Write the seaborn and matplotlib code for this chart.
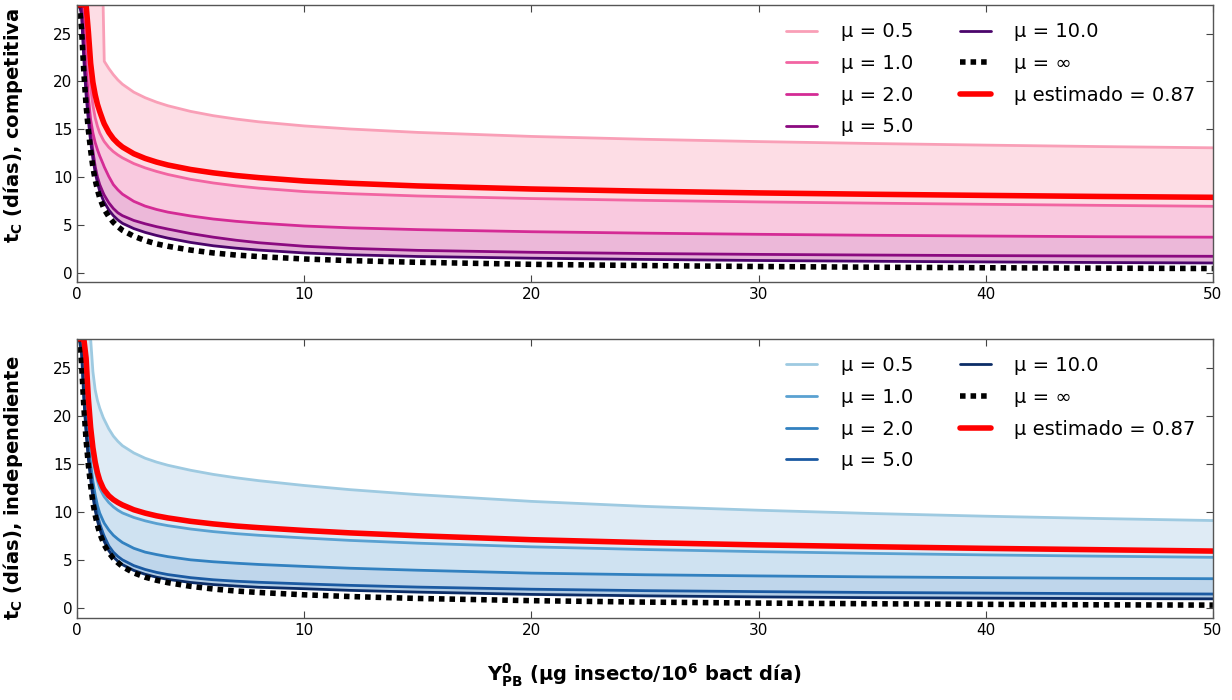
import numpy as np
import pandas as pd
import matplotlib
matplotlib.use("Agg")
import matplotlib.pyplot as plt
import seaborn as sns

# ---- data ----
x_vals = [0, 0.1, 0.2, 0.3, 0.4, 0.5, 0.6, 0.7, 0.8, 0.9, 1.0, 1.15, 1.2, 1.4, 1.6, 1.8,
          2, 2.5, 3, 3.5, 4, 5, 6, 7, 8, 10, 12, 15, 20, 25, 30, 35, 40, 45, 50]

mu_labels = ["μ = 0.5", "μ = 1.0", "μ = 2.0", "μ = 5.0", "μ = 10.0"]
inf_label = "μ = ∞"
est_label = "μ estimado = 0.87"

# competitiva (top panel)
comp_05 = [28, 28, 28, 28, 28, 28, 28, 28, 28, 28, 28, 28, 22.1, 21.35, 20.7, 20.15,
           19.7, 18.87, 18.29, 17.83, 17.45, 16.86, 16.41, 16.06, 15.77, 15.34, 15.02, 14.66, 14.24, 13.94, 13.70, 13.50, 13.33, 13.18, 13.05]
comp_1 = [28, 28, 28, 28, 26.5, 22.5, 19.4, 17.5, 16.2, 15.3, 14.6, 13.9, 13.7, 13.1, 12.65, 12.3,
          12.0, 11.4, 10.95, 10.58, 10.26, 9.75, 9.37, 9.07, 8.83, 8.47, 8.25, 8.01, 7.74, 7.55, 7.39, 7.26, 7.14, 7.03, 6.93]
comp_2 = [28, 28, 28, 26.0, 21.5, 18.3, 16.0, 14.6, 13.6, 12.85, 12.2, 11.35, 11.05, 10.05, 9.2, 8.65,
          8.2, 7.45, 6.95, 6.6, 6.32, 5.92, 5.6, 5.36, 5.17, 4.87, 4.68, 4.49, 4.27, 4.12, 4.0, 3.9, 3.82, 3.75, 3.70]
comp_5 = [28, 28, 27.8, 23.3, 19.5, 16.7, 14.5, 12.7, 11.1, 10.0, 9.2, 8.35, 8.1, 7.3, 6.7, 6.25,
          5.95, 5.45, 5.1, 4.8, 4.55, 4.08, 3.7, 3.38, 3.12, 2.75, 2.53, 2.32, 2.12, 1.99, 1.9, 1.83, 1.77, 1.73, 1.70]
comp_10 = [28, 28, 27.0, 22.3, 18.6, 15.9, 13.7, 11.9, 10.5, 9.4, 8.5, 7.6, 7.35, 6.55, 5.95, 5.5,
           5.15, 4.6, 4.2, 3.88, 3.6, 3.15, 2.8, 2.55, 2.35, 2.05, 1.86, 1.68, 1.5, 1.37, 1.26, 1.18, 1.11, 1.05, 1.0]
comp_inf = [28, 28, 25.5, 21.0, 17.5, 14.9, 12.8, 11.0, 9.7, 8.65, 7.8, 6.9, 6.6, 5.85, 5.25, 4.8,
            4.42, 3.8, 3.35, 3.0, 2.75, 2.35, 2.05, 1.83, 1.67, 1.42, 1.25, 1.07, 0.86, 0.73, 0.63, 0.56, 0.5, 0.46, 0.42]
comp_est = [28, 28, 28, 28, 28, 25.2, 21.9, 19.9, 18.6, 17.6, 16.85, 15.85, 15.55, 14.66, 14.0, 13.52,
            13.13, 12.43, 11.94, 11.56, 11.25, 10.78, 10.43, 10.15, 9.93, 9.58, 9.34, 9.06, 8.74, 8.51, 8.33, 8.19, 8.07, 7.96, 7.87]

# independiente (bottom panel)
ind_05 = [28, 28, 28, 28, 28, 28, 28, 24.6, 22.7, 21.6, 20.8, 19.85, 19.6, 18.65, 17.9, 17.35,
          16.9, 16.15, 15.6, 15.2, 14.87, 14.35, 13.92, 13.57, 13.27, 12.77, 12.34, 11.82, 11.12, 10.6, 10.2, 9.86, 9.58, 9.34, 9.13]
ind_1 = [28, 28, 28, 28, 25.0, 20.6, 17.6, 15.7, 14.3, 13.25, 12.5, 11.8, 11.6, 11.0, 10.55, 10.2,
         9.92, 9.45, 9.1, 8.82, 8.6, 8.25, 7.98, 7.77, 7.6, 7.32, 7.07, 6.78, 6.4, 6.12, 5.9, 5.72, 5.56, 5.43, 5.31]
ind_2 = [28, 28, 28, 24.5, 20.3, 17.3, 15.0, 13.2, 11.8, 10.7, 9.9, 9.1, 8.85, 8.15, 7.6, 7.2,
         6.85, 6.25, 5.85, 5.6, 5.38, 5.05, 4.85, 4.7, 4.57, 4.37, 4.18, 3.97, 3.67, 3.5, 3.38, 3.28, 3.2, 3.14, 3.09]
ind_5 = [28, 28, 27.0, 22.4, 18.8, 16.1, 14.0, 12.2, 10.8, 9.7, 8.8, 7.8, 7.5, 6.5, 5.85, 5.4,
         5.05, 4.45, 4.05, 3.75, 3.52, 3.2, 2.98, 2.83, 2.72, 2.55, 2.4, 2.22, 2.0, 1.85, 1.75, 1.66, 1.6, 1.54, 1.5]
ind_10 = [28, 28, 26.5, 21.8, 18.2, 15.5, 13.4, 11.6, 10.2, 9.1, 8.25, 7.25, 6.95, 6.0, 5.35, 4.9,
          4.55, 3.95, 3.55, 3.25, 3.02, 2.7, 2.48, 2.33, 2.2, 2.05, 1.88, 1.7, 1.46, 1.31, 1.2, 1.12, 1.07, 1.03, 1.0]
ind_inf = [28, 28, 25.5, 21.0, 17.5, 14.9, 12.8, 11.0, 9.7, 8.65, 7.8, 6.9, 6.6, 5.8, 5.2, 4.75,
           4.35, 3.7, 3.25, 2.93, 2.68, 2.3, 2.02, 1.81, 1.66, 1.42, 1.24, 1.04, 0.81, 0.66, 0.56, 0.49, 0.43, 0.38, 0.35]
ind_est = [28, 28, 28, 28, 26.0, 21.8, 18.8, 16.7, 15.2, 14.1, 13.3, 12.5, 12.3, 11.7, 11.3, 11.0,
           10.75, 10.25, 9.9, 9.62, 9.4, 9.05, 8.78, 8.56, 8.39, 8.1, 7.85, 7.55, 7.14, 6.84, 6.6, 6.41, 6.24, 6.1, 5.96]

x_ticks = [0, 10, 20, 30, 40, 50]
y_ticks = [0, 5, 10, 15, 20, 25]

# ---- styling ----
sns.set_style("ticks")
plt.rcParams['font.family'] = ['DejaVu Sans']
plt.rcParams['mathtext.default'] = 'regular'
plt.rcParams['text.color'] = 'black'
plt.rcParams['axes.labelcolor'] = 'black'
plt.rcParams['xtick.color'] = 'black'
plt.rcParams['ytick.color'] = 'black'

top_colors = ['#f99fb7', '#f265a2', '#d42b95', '#8b0a80', '#4b056b']
top_bands = ['#fddde5', '#f9c9df', '#ecb8d9', '#e3b0d6']
bot_colors = ['#9ecae1', '#5aa1d1', '#3281c0', '#1b5aa2', '#0c2d67']
bot_bands = ['#dfebf5', '#cfe2f1', '#bfd6eb', '#b3cde5']

fig = plt.figure(figsize=(12.32, 7.0), dpi=100)
ax1 = fig.add_axes([0.0625, 0.597, 0.922, 0.396])
ax2 = fig.add_axes([0.0625, 0.117, 0.922, 0.399])


def draw(ax, series, inf_s, est_s, colors, bands, ylabel, ylab_y):
    x = np.array(x_vals)
    for i in range(len(series) - 1):
        ax.fill_between(x, series[i], series[i + 1], color=bands[i], lw=0, zorder=1)
    for s, c, lab in zip(series, colors, mu_labels):
        sns.lineplot(x=x, y=s, ax=ax, color=c, lw=2, label=lab, sort=False,
                     estimator=None, zorder=3)
    sns.lineplot(x=x, y=inf_s, ax=ax, color='black', lw=4, label=inf_label,
                 sort=False, estimator=None, zorder=4)
    ax.lines[-1].set_linestyle((0, (1, 0.9)))
    ax.lines[-1].set_dash_capstyle('butt')
    sns.lineplot(x=x, y=est_s, ax=ax, color='red', lw=4, label=est_label,
                 sort=False, estimator=None, zorder=5)
    ax.set_xlim(0, 50)
    ax.set_ylim(-1, 28)
    ax.set_xticks(x_ticks)
    ax.set_yticks(y_ticks)
    ax.tick_params(direction='in', top=True, right=True, length=5, width=0.8,
                   labelsize=11, color='#444444', labelcolor='black')
    for sp in ax.spines.values():
        sp.set_color('#555555')
        sp.set_linewidth(1.0)
        sp.set_zorder(6)
    ax.set_xlabel('')
    ax.set_ylabel(ylabel, fontsize=14, fontweight='bold', color='black')
    ax.yaxis.set_label_coords(-0.046, ylab_y)
    leg = ax.legend(loc='upper right', ncol=2, frameon=False, fontsize=14,
                    handlelength=1.6, handletextpad=1.2, columnspacing=2.4,
                    borderaxespad=0.5, labelspacing=0.65)
    for t in leg.get_texts():
        t.set_color('black')


draw(ax1, [comp_05, comp_1, comp_2, comp_5, comp_10], comp_inf, comp_est,
     top_colors, top_bands, r'$\mathbf{t_C}$ (días), competitiva', 0.566)
draw(ax2, [ind_05, ind_1, ind_2, ind_5, ind_10], ind_inf, ind_est,
     bot_colors, bot_bands, r'$\mathbf{t_C}$ (días), independiente', 0.467)

ax2.set_xlabel(r'$\mathbf{Y^0_{PB}}$ ($\mu$g insecto/$\mathbf{10^6}$ bact día)',
               fontsize=14, fontweight='bold', color='black')
ax2.xaxis.set_label_coords(0.5, -0.155)
ax2.xaxis.label.set_va('top')

fig.savefig('out.png', dpi=100)
